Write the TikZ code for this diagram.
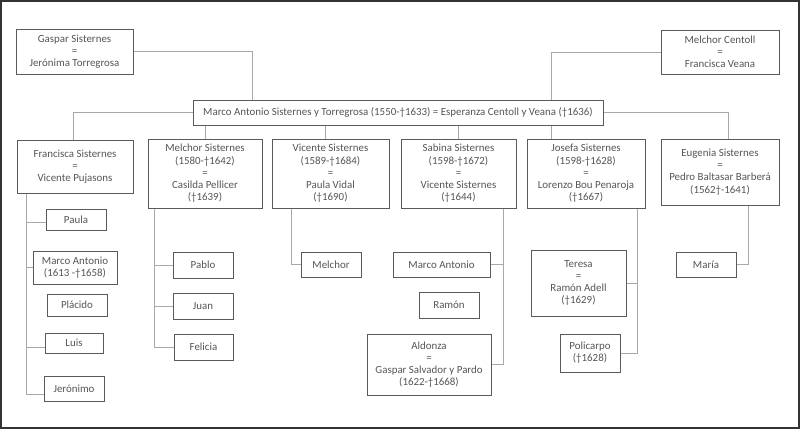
\documentclass[tikz,border=0pt]{standalone}
\usepackage{fontspec}
\setmainfont{Carlito}
\usepackage{tikz}
\usetikzlibrary{positioning, calc}

\definecolor{boxline}{HTML}{5A5A5A}
\definecolor{linkline}{HTML}{A8A8A8}
\definecolor{textgray}{HTML}{555555}
\definecolor{framecol}{HTML}{333333}

\begin{document}
\begin{tikzpicture}[x=1pt, y=-1pt]

    % Define styles
    \tikzstyle{person} = [rectangle, draw=boxline, line width=1pt, fill=white, text=textgray, align=center, inner sep=1pt, font=\fontsize{10.9}{12.2}\selectfont]
    \tikzstyle{link} = [draw=linkline, line width=0.9pt]

    \useasboundingbox (0,0) rectangle (800,429);
    \draw [framecol, line width=2pt] (1,1) rectangle (799,428);

    % Parents
    \node (gaspar) [person, minimum width=117pt, minimum height=45pt] at (74.5,51.5) {Gaspar Sisternes\\=\\Jerónima Torregrosa};
    \node (centoll) [person, minimum width=118pt, minimum height=44pt] at (720,52) {Melchor Centoll\\=\\Francisca Veana};
    \node (main) [person, minimum width=410pt, minimum height=25pt] at (398,112.5) {Marco Antonio Sisternes y Torregrosa (1550-†1633) = Esperanza Centoll y Veana (†1636)};

    % Children
    \node (francisca) [person, minimum width=116pt, minimum height=53pt] at (75,166.5) {Francisca Sisternes\\=\\Vicente Pujasons};
    \node (melchorS) [person, minimum width=114pt, minimum height=69pt] at (205,173.5) {Melchor Sisternes\\(1580-†1642)\\=\\Casilda Pellicer\\(†1639)};
    \node (vicente) [person, minimum width=117pt, minimum height=69pt] at (330.5,173.5) {Vicente Sisternes\\(1589-†1684)\\=\\Paula Vidal\\(†1690)};
    \node (sabina) [person, minimum width=115pt, minimum height=69pt] at (458.5,173.5) {Sabina Sisternes\\(1598-†1672)\\=\\Vicente Sisternes\\(†1644)};
    \node (josefa) [person, minimum width=118pt, minimum height=69pt] at (586,173.5) {Josefa Sisternes\\(1598-†1628)\\=\\Lorenzo Bou Penaroja\\(†1667)};
    \node (eugenia) [person, minimum width=118pt, minimum height=66pt] at (720,172) {Eugenia Sisternes\\=\\Pedro Baltasar Barberá\\(1562†-1641)};

    % Grandchildren
    \node (paula) [person, minimum width=60pt, minimum height=21pt] at (76,219.5) {Paula};
    \node (marcoF) [person, minimum width=84pt, minimum height=33pt] at (75,267.5) {Marco Antonio\\(1613 -†1658)};
    \node (placido) [person, minimum width=60pt, minimum height=22pt] at (77,305) {Plácido};
    \node (luis) [person, minimum width=58pt, minimum height=20pt] at (74,343) {Luis};
    \node (jeronimo) [person, minimum width=60pt, minimum height=25pt] at (74,388.5) {Jerónimo};

    \node (pablo) [person, minimum width=60pt, minimum height=26pt] at (203,265) {Pablo};
    \node (juan) [person, minimum width=60pt, minimum height=26pt] at (203,306) {Juan};
    \node (felicia) [person, minimum width=59pt, minimum height=26pt] at (203.5,347) {Felicia};

    \node (melchorV) [person, minimum width=60pt, minimum height=25pt] at (331,264.5) {Melchor};

    \node (marcoS) [person, minimum width=97pt, minimum height=25pt] at (441.5,264.5) {Marco Antonio};
    \node (ramon) [person, minimum width=60pt, minimum height=26pt] at (449,305) {Ramón};
    \node (aldonza) [person, minimum width=124pt, minimum height=61pt] at (429,364.5) {Aldonza\\=\\Gaspar Salvador y Pardo\\(1622-†1668)};

    \node (teresa) [person, minimum width=95pt, minimum height=66pt] at (578.5,283) {Teresa\\=\\Ramón Adell\\(†1629)};
    \node (policarpo) [person, minimum width=60pt, minimum height=38pt] at (590,353) {Policarpo\\(†1628)};

    \node (maria) [person, minimum width=60pt, minimum height=25pt] at (706,264.5) {María};

    % Lines
    \draw [link] (gaspar.east) -| ([xshift=60pt]main.north west);
    \draw [link] (centoll.west) -| ([xshift=-52pt]main.north east);
    \draw [link] (main.west) -| ([xshift=-2pt]francisca.north);
    \draw [link] (main.east) -| ([xshift=8pt]eugenia.north);
    \draw [link] (melchorS.north) -- (melchorS.north |- main.south);
    \draw [link] ([xshift=-5pt]vicente.north) -- ([xshift=-5pt]vicente.north |- main.south);
    \draw [link] (sabina.north) -- (sabina.north |- main.south);
    \draw [link] ([xshift=-35pt]josefa.north) -- ([xshift=-35pt]josefa.north |- main.south);

    \coordinate (ftrunk) at ([xshift=10pt]francisca.south west);
    \draw [link] (ftrunk) |- ([yshift=-6pt]jeronimo.west);
    \draw [link] ([yshift=-3pt]paula.west) -- ([yshift=-3pt]paula.west -| ftrunk);
    \draw [link] (marcoF.west) -- (marcoF.west -| ftrunk);
    \draw [link] ([yshift=-4pt]luis.west) -- ([yshift=-4pt]luis.west -| ftrunk);

    \coordinate (mtrunk) at ([xshift=7pt]melchorS.south west);
    \draw [link] (mtrunk) |- (felicia.west);
    \draw [link] (pablo.west) -- (pablo.west -| mtrunk);
    \draw [link] (juan.west) -- (juan.west -| mtrunk);

    \draw [link] ([xshift=20pt]vicente.south west) |- (melchorV.west);

    \coordinate (strunk) at ([xshift=-13pt]sabina.south east);
    \draw [link] (strunk) |- (aldonza.east);
    \draw [link] (marcoS.east) -- (marcoS.east -| strunk);

    \coordinate (jtrunk) at ([xshift=-8pt]josefa.south east);
    \draw [link] (jtrunk) |- (policarpo.east);
    \draw [link] (teresa.east) -- (teresa.east -| jtrunk);

    \draw [link] ([xshift=-31pt]eugenia.south east) |- (maria.east);

\end{tikzpicture}
\end{document}
